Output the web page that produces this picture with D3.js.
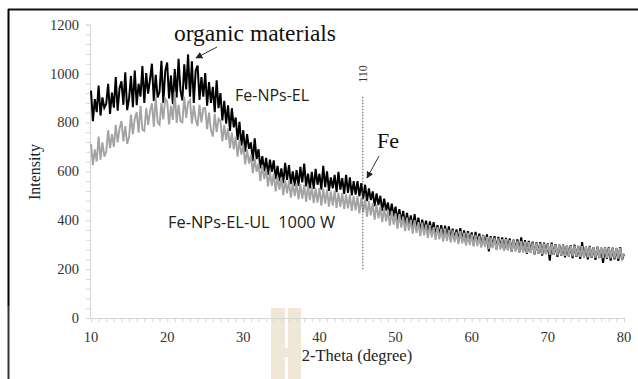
<!DOCTYPE html>
<html lang="en">
<head>
<meta charset="UTF-8">
<title>XRD</title>
<script src="https://d3js.org/d3.v7.min.js"></script>
<style>
body { margin: 0; background: #fff; }
svg { display: block; }
.serif { font-family: "Liberation Serif", "Times New Roman", serif; }
.sans { font-family: "Open Sans", "Liberation Sans", sans-serif; white-space: pre; }
.minor path, .minor line { stroke: #d6d6d6; }
</style>
</head>
<body>
<div id="container"></div>
<script>
// 2-theta grid, 10..80 in 0.25 steps
const twoTheta = d3.range(281).map(i => 10 + i * 0.25);

// Fe-NPs-EL (black)
const intensityEL = [
  930, 805, 895, 842,  951, 828, 902, 860,  876, 958, 835, 922,  860, 985, 848, 940,
  968, 872, 1005, 850,  898, 990, 862, 1012,  870, 958, 905, 1030,  880, 1002, 918, 975,
  1040, 888, 995, 902,  925, 1052, 880, 1010,  1045, 898, 992, 875,  1018, 902, 1060, 930,
  890, 1038, 935, 1078,  905, 1050, 880, 1012,  1032, 892, 985, 905,  1002, 868, 965, 880,
  945, 842, 972, 858,  920, 808, 888, 795,  870, 765, 858, 780,  820, 728, 802, 705,
  768, 680, 752, 692,  718, 642, 735, 650,  690, 612, 662, 600,  655, 585, 648, 598,
  645, 568, 622, 560,  612, 552, 635, 565,  625, 548, 600, 540,  605, 540, 618, 555,
  632, 538, 590, 530,  598, 528, 610, 545,  590, 525, 622, 535,  600, 520, 575, 530,
  585, 515, 598, 525,  572, 508, 585, 512,  575, 502, 560, 505,  560, 498, 552, 488,
  545, 478, 530, 482,  518, 458, 510, 462,  500, 438, 488, 440,  472, 418, 468, 415,
  455, 398, 445, 392,  438, 380, 430, 378,  420, 368, 425, 362,  410, 352, 402, 358,
  398, 342, 395, 350,  392, 335, 380, 338,  380, 326, 378, 330,  375, 318, 365, 322,
  362, 312, 368, 315,  358, 305, 355, 310,  350, 300, 352, 305,  345, 295, 340, 298,
  342, 272, 335, 292,  335, 282, 332, 288,  330, 278, 328, 282,  325, 272, 320, 278,
  322, 268, 330, 272,  318, 262, 315, 270,  312, 260, 310, 262,  310, 255, 308, 262,
  305, 235, 308, 258,  302, 250, 300, 255,  300, 248, 298, 252,  298, 245, 300, 250,
  295, 242, 310, 248,  292, 240, 295, 246,  290, 238, 292, 245,  288, 225, 290, 242,
  290, 235, 288, 240,  286, 234, 290, 238,  262
];

// Fe-NPs-EL-UL 1000 W (grey)
const intensityUL = [
  712, 625, 690, 640,  742, 648, 718, 660,  680, 768, 695, 752,  700, 790, 718, 775,
  805, 722, 785, 712,  740, 832, 752, 815,  842, 758, 868, 770,  765, 858, 790, 845,
  878, 782, 905, 800,  790, 880, 812, 898,  885, 792, 868, 810,  925, 798, 872, 805,
  800, 905, 818, 880,  892, 795, 870, 812,  785, 872, 800, 858,  858, 772, 840, 768,
  742, 835, 760, 815,  805, 722, 790, 728,  775, 695, 758, 690,  742, 660, 728, 668,
  705, 628, 690, 632,  668, 592, 652, 598,  632, 560, 625, 568,  608, 538, 598, 540,
  590, 518, 578, 525,  575, 502, 565, 510,  562, 492, 555, 498,  552, 485, 548, 488,
  545, 475, 540, 482,  538, 470, 530, 472,  532, 460, 528, 468,  525, 455, 518, 460,
  520, 450, 512, 455,  512, 445, 505, 448,  505, 438, 498, 440,  498, 428, 492, 432,
  485, 415, 478, 420,  470, 402, 465, 408,  455, 392, 450, 395,  442, 378, 438, 382,
  428, 365, 425, 370,  415, 355, 410, 358,  402, 345, 400, 348,  392, 335, 390, 338,
  382, 328, 380, 330,  372, 320, 372, 322,  365, 312, 365, 316,  360, 308, 358, 310,
  352, 302, 355, 305,  348, 296, 348, 298,  342, 292, 340, 294,  336, 288, 338, 290,
  332, 282, 330, 285,  328, 278, 326, 280,  322, 275, 322, 276,  318, 272, 318, 272,
  315, 268, 314, 268,  312, 265, 310, 266,  308, 262, 308, 262,  305, 260, 304, 260,
  302, 258, 302, 258,  300, 256, 300, 256,  298, 254, 298, 254,  296, 252, 296, 252,
  294, 250, 294, 250,  292, 248, 292, 248,  290, 246, 290, 246,  289, 245, 289, 245,
  288, 244, 288, 244,  287, 243, 287, 243,  264
];

const xTicks = [10, 20, 30, 40, 50, 60, 70, 80];
const yTicks = [0, 200, 400, 600, 800, 1000, 1200];
const fePeak = 45.7;

const width = 638, height = 379;

const svg = d3.select("#container").append("svg")
  .attr("width", width)
  .attr("height", height);

const x = d3.scaleLinear().domain([10, 80]).range([91, 624]);
const y = d3.scaleLinear().domain([0, 1200]).range([318, 24.6]);

// beige mark at the bottom
svg.append("rect").attr("x", 271).attr("y", 308).attr("width", 30).attr("height", 71).attr("fill", "#efe7d7");
svg.append("rect").attr("x", 285).attr("y", 308).attr("width", 3).attr("height", 40).attr("fill", "#fff");
svg.append("rect").attr("x", 285).attr("y", 357).attr("width", 3).attr("height", 22).attr("fill", "#fff");

// frame
svg.append("line").attr("x1", 8).attr("x2", 638).attr("y1", 9.5).attr("y2", 9.5).attr("stroke", "#111").attr("stroke-width", 2);
svg.append("line").attr("x1", 8.5).attr("x2", 8.5).attr("y1", 9).attr("y2", 306).attr("stroke", "#000").attr("stroke-width", 2);
svg.append("line").attr("x1", 8.5).attr("x2", 8.5).attr("y1", 306).attr("y2", 379).attr("stroke", "#333").attr("stroke-width", 2);

// minor ticks + axis lines
svg.append("g").attr("class", "minor").attr("transform", "translate(90,0)")
  .call(d3.axisLeft(y).tickValues(d3.range(0, 1201, 40)).tickSize(4).tickFormat(""));
svg.append("g").attr("class", "minor").attr("transform", "translate(0,318)")
  .call(d3.axisBottom(x).tickValues(d3.range(10, 81, 1)).tickSize(4).tickFormat(""));

// tick labels
svg.append("g").selectAll("text")
  .data(yTicks)
  .join("text")
  .attr("class", "serif")
  .attr("x", 79)
  .attr("y", d => y(d))
  .attr("dy", "0.35em")
  .attr("text-anchor", "end")
  .attr("font-size", 14.5)
  .attr("fill", "#333")
  .text(d => d);
svg.append("g").selectAll("text")
  .data(xTicks)
  .join("text")
  .attr("class", "serif")
  .attr("x", d => x(d))
  .attr("y", 342)
  .attr("text-anchor", "middle")
  .attr("font-size", 14.5)
  .attr("fill", "#333")
  .text(d => d);

// series
const line = d3.line()
  .x((d, i) => x(twoTheta[i]))
  .y(d => y(d));

svg.append("path").datum(intensityEL)
  .attr("fill", "none").attr("stroke", "#000").attr("stroke-width", 2)
  .attr("d", line);
svg.append("path").datum(intensityUL)
  .attr("fill", "none").attr("stroke", "#a3a3a3").attr("stroke-width", 1.9)
  .attr("d", line);

// Fe (110) marker
svg.append("line")
  .attr("x1", x(fePeak)).attr("x2", x(fePeak))
  .attr("y1", y(905)).attr("y2", y(196))
  .attr("stroke", "#555").attr("stroke-width", 1).attr("stroke-dasharray", "1.5,1.5");
svg.append("text").attr("class", "serif")
  .attr("transform", `translate(${x(fePeak) + 4},74) rotate(-90)`)
  .attr("text-anchor", "middle").attr("font-size", 12).attr("fill", "#333")
  .text("110");

// arrows
const defs = svg.append("defs");
defs.append("marker").attr("id", "arr")
  .attr("viewBox", "0 0 10 10").attr("refX", 9).attr("refY", 5)
  .attr("markerWidth", 7).attr("markerHeight", 7).attr("orient", "auto")
  .append("path").attr("d", "M0,0L10,5L0,10z").attr("fill", "#222");

svg.append("line").attr("x1", 217).attr("y1", 47).attr("x2", 196).attr("y2", 58)
  .attr("stroke", "#333").attr("stroke-width", 1).attr("marker-end", "url(#arr)");
svg.append("line").attr("x1", 379).attr("y1", 156).attr("x2", 367).attr("y2", 178)
  .attr("stroke", "#333").attr("stroke-width", 1).attr("marker-end", "url(#arr)");

// labels
svg.append("text").attr("class", "serif").attr("x", 255).attr("y", 41)
  .attr("text-anchor", "middle").attr("font-size", 23.5).attr("fill", "#111")
  .text("organic materials");
svg.append("text").attr("class", "sans").attr("x", 235).attr("y", 101)
  .attr("font-size", 16).attr("fill", "#222")
  .text("Fe-NPs-EL");
svg.append("text").attr("class", "sans").attr("x", 168).attr("y", 228)
  .attr("font-size", 16.4).attr("fill", "#222")
  .text("Fe-NPs-EL-UL  1000 W");
svg.append("text").attr("class", "serif").attr("x", 377).attr("y", 148)
  .attr("font-size", 22).attr("fill", "#111")
  .text("Fe");

svg.append("text").attr("class", "serif")
  .attr("transform", "translate(40,172) rotate(-90)")
  .attr("text-anchor", "middle").attr("font-size", 16).attr("fill", "#222")
  .text("Intensity");
svg.append("text").attr("class", "serif").attr("x", 357).attr("y", 361)
  .attr("text-anchor", "middle").attr("font-size", 16.5).attr("fill", "#222")
  .text("2-Theta (degree)");
</script>
</body>
</html>
